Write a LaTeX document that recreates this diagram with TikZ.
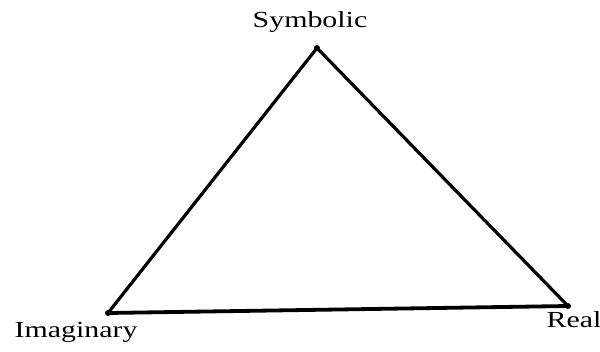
\documentclass[tikz,border=0pt]{standalone}
\usepackage{fontspec}
\setmainfont{Liberation Serif}
\usetikzlibrary{positioning}

\newcommand{\widetext}[1]{\scalebox{1.3}[1]{#1}}

\begin{document}
\begin{tikzpicture}[x=1pt, y=-1pt, line width=3.2pt, line join=round, line cap=round,
    corner/.style={circle, fill, inner sep=0pt, minimum size=6pt},
    name text/.style={font=\fontsize{23}{23}\selectfont, inner sep=0pt}]
    \useasboundingbox (0,0) rectangle (600,351);

    % Corners
    \node[corner] (sym) at (317,48) {};
    \node[corner] (ima) at (108,313) {};
    \node[corner] (rea) at (568,306) {};

    % Sides
    \draw (ima.center) -- (sym.center) -- (rea.center);
    \draw[line width=3.8pt] (ima.center) -- (rea.center);

    % Names
    \node[name text, anchor=base] (symlabel) at (310,27) {\widetext{Symbolic}};
    \node[name text, anchor=base west] (imalabel) at (13,337) {\widetext{Imaginary}};
    \node[name text, anchor=base west] (realabel) at (545,327) {\widetext{Real}};
\end{tikzpicture}
\end{document}
